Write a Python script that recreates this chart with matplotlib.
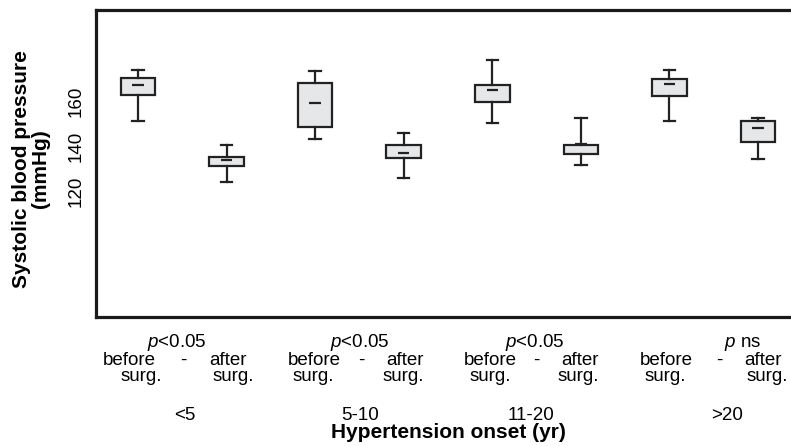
import matplotlib
matplotlib.use("Agg")
import matplotlib.pyplot as plt

plt.rcParams["font.family"] = ["Liberation Sans", "DejaVu Sans"]
plt.rcParams["mathtext.fontset"] = "custom"
plt.rcParams["mathtext.rm"] = "Liberation Sans"
plt.rcParams["mathtext.it"] = "Liberation Sans:italic"
plt.rcParams["mathtext.bf"] = "Liberation Sans:bold"

# ---- data ----
groups = ["<5", "5-10", "11-20", ">20"]
p_labels = ["$\\it{p}$<0.05", "$\\it{p}$<0.05", "$\\it{p}$<0.05", "$\\it{p}$ ns"]
positions = [1, 2, 3, 4, 5, 6, 7, 8]
whislo = [151.2, 123.9, 143.0, 125.9, 150.2, 131.7, 151.2, 134.4]
q1     = [162.8, 131.2, 148.6, 134.7, 159.7, 136.6, 162.1, 141.6]
med    = [167.0, 133.6, 159.0, 137.0, 165.0, 141.0, 167.4, 148.0]
q3     = [170.2, 135.2, 167.9, 140.3, 167.0, 140.3, 169.6, 151.0]
whishi = [173.8, 140.4, 173.5, 145.9, 178.2, 152.3, 173.8, 152.4]
yticks = [120, 140, 160]

W, H = 791, 446
fig = plt.figure(figsize=(W / 100, H / 100), dpi=100)
ax = fig.add_axes([96 / W, 1 - 317 / H, 1 - 96 / W, (317 - 10) / H])

stats = []
for i in range(len(positions)):
    stats.append(dict(whislo=whislo[i], q1=q1[i], med=med[i], q3=q3[i], whishi=whishi[i], fliers=[]))

bw = 0.39
edge = "#222222"
ax.bxp(stats, positions=positions, widths=bw, patch_artist=True, showfliers=False,
       capwidths=0.13,
       boxprops=dict(facecolor="#e6e7e8", edgecolor=edge, linewidth=1.6),
       whiskerprops=dict(color=edge, linewidth=1.6),
       capprops=dict(color=edge, linewidth=1.6),
       medianprops=dict(visible=False))
ax.hlines(med, [p - 0.065 for p in positions], [p + 0.065 for p in positions],
          colors=edge, linewidth=1.6)

ax.set_xlim(0.526, 8.373)
ax.set_ylim(64, 200.4)
ax.set_xticks([])
ax.set_yticks(yticks)
ax.set_yticklabels([str(t) for t in yticks], rotation=90, va="center", fontsize=13.5)
ax.tick_params(axis="y", length=0, pad=8)
for s in ["left", "top", "bottom"]:
    ax.spines[s].set_linewidth(2.3)
    ax.spines[s].set_color("#1a1a1a")
ax.spines["right"].set_visible(False)

fig.text(31 / W, 1 - 169 / H, "Systolic blood pressure\n(mmHg)", rotation=90,
         ha="center", va="center", fontsize=15, fontweight="bold", linespacing=0.95)

def ft(x, y, s, **kw):
    fig.text(x / W, 1 - y / H, s, ha="center", va="baseline", fontsize=13.5, **kw)

p_x = [176.5, 360, 535, 743]
before_x = [129.5, 314.5, 490, 666]
dash_x = [183, 361, 536, 719.5]
after_x = [228, 405, 580.5, 763]
surg1_x = [141, 313.5, 490, 665]
surg2_x = [233, 403.5, 578, 767]
grp_x = [184.5, 360, 531, 727]
for i in range(4):
    ft(p_x[i], 347, p_labels[i])
    ft(before_x[i], 365, "before")
    ft(dash_x[i], 365, "-")
    ft(after_x[i], 365, "after")
    ft(surg1_x[i], 381, "surg.")
    ft(surg2_x[i], 381, "surg.")
    ft(grp_x[i], 420, groups[i])
fig.text(448 / W, 1 - 438 / H, "Hypertension onset (yr)", ha="center", va="baseline",
         fontsize=15, fontweight="bold")

fig.savefig("out.png", dpi=100)
